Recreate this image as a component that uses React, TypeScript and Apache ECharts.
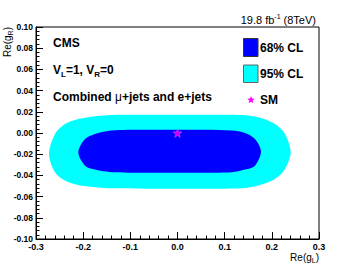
import React, { useEffect, useRef } from "react";
import * as echarts from "echarts";

// 95% CL contour boundary: [Re(gL), Re(gR)]
const cl95Contour: [number, number][] = [
  [-0.2724, -0.0198],
  [-0.2597, -0.0009],
  [-0.2385, 0.0085],
  [-0.2103, 0.0132],
  [-0.1749, 0.0158],
  [-0.1395, 0.017],
  [-0.07, 0.0172],
  [0.0, 0.0172],
  [0.07, 0.0172],
  [0.1361, 0.017],
  [0.1713, 0.0148],
  [0.2067, 0.0085],
  [0.2279, -0.0009],
  [0.24, -0.0182],
  [0.2279, -0.034],
  [0.2067, -0.0434],
  [0.1713, -0.0496],
  [0.1361, -0.0522],
  [0.07, -0.0525],
  [0.0, -0.0525],
  [-0.07, -0.0525],
  [-0.1395, -0.0522],
  [-0.1749, -0.0512],
  [-0.2103, -0.0491],
  [-0.2385, -0.0449],
  [-0.2597, -0.0371],
];

// 68% CL contour boundary
const cl68Contour: [number, number][] = [
  [-0.2103, -0.0182],
  [-0.1961, -0.0057],
  [-0.1749, -0.0009],
  [-0.1395, 0.0023],
  [-0.07, 0.003],
  [0.0, 0.003],
  [0.06, 0.003],
  [0.1149, 0.0023],
  [0.1431, 0.0],
  [0.1643, -0.0057],
  [0.177, -0.0175],
  [0.1643, -0.0308],
  [0.1431, -0.0345],
  [0.1149, -0.0371],
  [0.06, -0.0374],
  [0.0, -0.0374],
  [-0.07, -0.0374],
  [-0.1395, -0.0371],
  [-0.1749, -0.0345],
  [-0.1961, -0.0308],
];

const smPoint: [number, number][] = [[0, 0]];

const legendLabels = ["68% CL", "95% CL", "SM"];

const FONT = "'Liberation Sans', Arial, Helvetica, sans-serif";
const STAR_PATH =
  "path://M0,-10L2.35,-3.24L9.51,-3.09L3.8,1.24L5.88,8.09L0,4L-5.88,8.09L-3.8,1.24L-9.51,-3.09L-2.35,-3.24Z";

function starPoints(cx: number, cy: number, R: number, r: number) {
  const pts: number[][] = [];
  for (let i = 0; i < 10; i++) {
    const a = -Math.PI / 2 + (i * Math.PI) / 5;
    const rad = i % 2 === 0 ? R : r;
    pts.push([cx + rad * Math.cos(a), cy + rad * Math.sin(a)]);
  }
  return pts;
}

function contourSeries(name: string, pts: [number, number][], color: string, z: number) {
  return {
    type: "custom",
    name,
    coordinateSystem: "cartesian2d",
    data: [[0, 0]],
    encode: { x: 0, y: 1 },
    clip: false,
    z,
    renderItem: (_params: any, api: any) => ({
      type: "polygon",
      shape: { points: pts.map((p) => api.coord(p)), smooth: 0.3 },
      style: { fill: color, stroke: "none" },
    }),
  };
}

export default function App() {
  const ref = useRef<HTMLDivElement>(null);
  useEffect(() => {
    document.body.style.margin = "0";
    if (!ref.current) return;
    const chart = echarts.init(ref.current, undefined, { renderer: "svg" });
    const fmt = (d: number) => (v: number) => (Math.abs(v) < 1e-9 ? 0 : v).toFixed(d);
    chart.setOption({
      animation: false,
      backgroundColor: "#ffffff",
      grid: {
        left: 36,
        right: 36,
        top: 27,
        bottom: 27,
        show: true,
        borderColor: "#000",
        borderWidth: 1,
        backgroundColor: "transparent",
      },
      xAxis: {
        type: "value",
        min: -0.3,
        max: 0.3,
        interval: 0.1,
        axisLine: { show: true, onZero: false, lineStyle: { color: "#000", width: 1 } },
        axisTick: { show: true, inside: true, length: 7, lineStyle: { color: "#000" } },
        minorTick: { show: true, splitNumber: 5, length: 3.5, lineStyle: { color: "#000" } },
        splitLine: { show: false },
        axisLabel: {
          color: "#000",
          fontSize: 9,
          fontWeight: "bold",
          fontFamily: FONT,
          margin: 3,
          showMinLabel: true,
          showMaxLabel: true,
          formatter: fmt(1),
        },
      },
      yAxis: {
        type: "value",
        min: -0.1,
        max: 0.1,
        interval: 0.02,
        axisLine: { show: true, onZero: false, lineStyle: { color: "#000", width: 1 } },
        axisTick: { show: true, inside: true, length: 7, lineStyle: { color: "#000" } },
        minorTick: { show: true, splitNumber: 5, length: 3.5, lineStyle: { color: "#000" } },
        splitLine: { show: false },
        axisLabel: {
          color: "#000",
          fontSize: 8.5,
          fontWeight: "bold",
          fontFamily: FONT,
          margin: 3,
          showMinLabel: true,
          showMaxLabel: true,
          formatter: fmt(2),
        },
      },
      series: [
        contourSeries(legendLabels[1], cl95Contour, "#00ffff", 1),
        contourSeries(legendLabels[0], cl68Contour, "#0000ff", 2),
        {
          type: "scatter",
          name: legendLabels[2],
          data: smPoint,
          symbol: STAR_PATH,
          symbolSize: 9,
          z: 5,
          itemStyle: { color: "#ff00ff", borderColor: "#ff66ff", borderWidth: 0.5 },
        },
      ],
      graphic: [
        {
          type: "text",
          x: 316,
          y: 20,
          style: {
            text: "{a|19.8 fb}{s|-1}{a| (8TeV)}",
            align: "right",
            verticalAlign: "middle",
            fill: "#000",
            rich: {
              a: { fontSize: 11, fontFamily: FONT, lineHeight: 14, fill: "#000" },
              s: { fontSize: 7, fontFamily: FONT, lineHeight: 8, verticalAlign: "top", fill: "#000" },
            },
          },
        },
        {
          type: "text",
          x: 53,
          y: 43,
          style: {
            text: "CMS",
            fontSize: 12,
            fontWeight: "bold",
            fontFamily: FONT,
            fill: "#000",
            verticalAlign: "middle",
          },
        },
        {
          type: "text",
          x: 53,
          y: 70,
          style: {
            text: "{a|V}{s|L}{a|=1, V}{s|R}{a|=0}",
            verticalAlign: "middle",
            fill: "#000",
            rich: {
              a: { fontSize: 12, fontWeight: "bold", fontFamily: FONT, lineHeight: 17, fill: "#000" },
              s: {
                fontSize: 8,
                fontWeight: "bold",
                fontFamily: FONT,
                lineHeight: 8,
                verticalAlign: "bottom",
                fill: "#000",
              },
            },
          },
        },
        {
          type: "text",
          x: 53,
          y: 97,
          style: {
            text: "{a|Combined }{m|μ}{a|+jets and e+jets}",
            verticalAlign: "middle",
            fill: "#000",
            rich: {
              a: { fontSize: 12, fontWeight: "bold", fontFamily: FONT, lineHeight: 14, fill: "#000" },
              m: { fontSize: 12, fontWeight: "normal", fontFamily: FONT, lineHeight: 14, fill: "#000" },
            },
          },
        },
        {
          type: "rect",
          shape: { x: 243.5, y: 38.5, width: 14.5, height: 18 },
          style: { fill: "#0000ff", stroke: "#333", lineWidth: 1 },
        },
        {
          type: "rect",
          shape: { x: 243.5, y: 65, width: 14.5, height: 17.5 },
          style: { fill: "#00ffff", stroke: "#666", lineWidth: 1 },
        },
        {
          type: "polygon",
          shape: { points: starPoints(251, 100, 4, 1.7) },
          style: { fill: "#ff00ff" },
        },
        ...legendLabels.map((t, i) => ({
          type: "text",
          x: 260,
          y: [47.5, 73.5, 100][i],
          style: {
            text: t,
            fontSize: 12,
            fontWeight: "bold",
            fontFamily: FONT,
            fill: "#000",
            verticalAlign: "middle",
          },
        })),
        {
          type: "text",
          x: 319,
          y: 257,
          style: {
            text: "{a|Re(g}{s|L}{a|)}",
            align: "right",
            verticalAlign: "middle",
            fill: "#000",
            rich: {
              a: { fontSize: 10, fontFamily: FONT, lineHeight: 14, fill: "#000" },
              s: { fontSize: 7, fontFamily: FONT, lineHeight: 7, verticalAlign: "bottom", fill: "#000" },
            },
          },
        },
        {
          type: "text",
          x: 7,
          y: 27,
          rotation: Math.PI / 2,
          style: {
            text: "{a|Re(g}{s|R}{a|)}",
            align: "right",
            verticalAlign: "middle",
            fill: "#000",
            rich: {
              a: { fontSize: 10, fontFamily: FONT, lineHeight: 14, fill: "#000" },
              s: { fontSize: 7, fontFamily: FONT, lineHeight: 7, verticalAlign: "bottom", fill: "#000" },
            },
          },
        },
      ],
    });
    return () => chart.dispose();
  }, []);
  return <div ref={ref} style={{ width: 355, height: 266 }} />;
}
